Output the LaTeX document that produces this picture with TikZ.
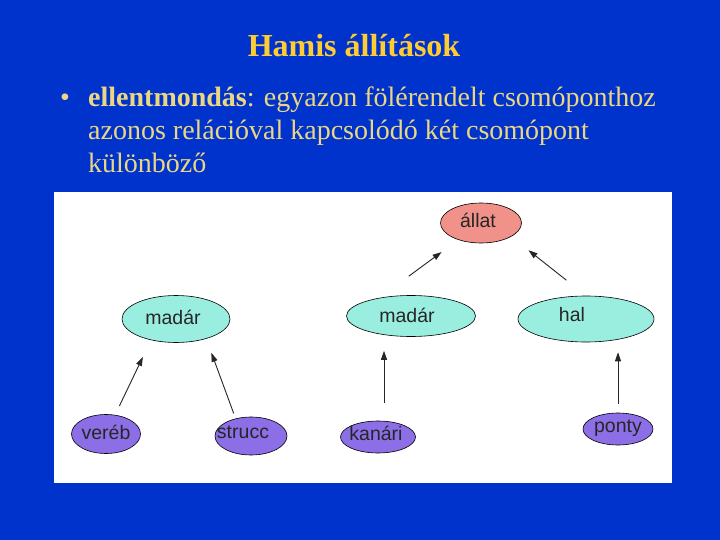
\documentclass[tikz,border=0pt]{standalone}
\usepackage{fontspec}
\setmainfont{Liberation Serif}
\newfontfamily\nodefont{Liberation Sans}
\usepackage{xcolor}
\definecolor{slideblue}{RGB}{0, 51, 204}
\definecolor{titleyellow}{RGB}{255, 204, 51}
\definecolor{textyellow}{RGB}{235, 215, 130}
\definecolor{rootfill}{RGB}{240, 145, 138}
\definecolor{classfill}{RGB}{153, 238, 224}
\definecolor{leaffill}{RGB}{140, 110, 230}
\usepackage{tikz}
\usetikzlibrary{shapes.geometric,arrows.meta,positioning,calc}

\begin{document}
\begin{tikzpicture}[
  x=1pt, y=-1pt,
  concept/.style={ellipse, draw=black, line width=0.6pt, inner sep=0pt},
  rootnode/.style={concept, fill=rootfill},
  classnode/.style={concept, fill=classfill},
  leafnode/.style={concept, fill=leaffill},
  nodetext/.style={font=\nodefont\fontsize{19.5}{19.5}\selectfont, text=black!85, inner sep=0pt},
  arrow/.style={-{Triangle[length=9pt,width=6pt]}, line width=0.9pt, color=black!85}
]
% slide background and white panel
\fill[slideblue] (0,0) rectangle (720,540);
\fill[white] (54,192) rectangle (672,483);

% title and text
\node[anchor=base, text=titleyellow, font=\fontsize{32}{36}\selectfont\bfseries] (title) at (354,57) {Hamis állítások};
\node[anchor=base, text=textyellow, font=\fontsize{28}{33}\selectfont] (bullet) at (65,107) {\textbullet};
\node[anchor=base west, inner sep=0pt, text=textyellow, align=left, font=\fontsize{28}{33}\selectfont] (body) at (88,173)
  {\textbf{ellentmondás}: egyazon fölérendelt csomóponthoz\\azonos relációval kapcsolódó két csomópont\\különböző};

% hierarchy
\node[rootnode, minimum width=81pt, minimum height=40pt, label={[nodetext, xshift=-3pt, yshift=3pt]center:állat}] (allat) at (481,223) {};
\node[classnode, minimum width=108pt, minimum height=47pt, label={[nodetext, xshift=-3pt, yshift=2pt]center:madár}] (madarA) at (176,319) {};
\node[classnode, minimum width=129pt, minimum height=41pt, label={[nodetext, xshift=-4pt, yshift=1pt]center:madár}] (madarB) at (411,316) {};
\node[classnode, minimum width=136pt, minimum height=46pt, label={[nodetext, xshift=-14pt, yshift=4pt]center:hal}] (hal) at (586,319) {};
\node[leafnode, minimum width=69pt, minimum height=39pt, label={[nodetext, yshift=2pt]center:veréb}] (vereb) at (106,434) {};
\node[leafnode, minimum width=72pt, minimum height=38pt, label={[nodetext, xshift=-8pt, yshift=4pt]center:strucc}] (strucc) at (251,436) {};
\node[leafnode, minimum width=75pt, minimum height=32pt, label={[nodetext, xshift=-2pt, yshift=4pt]center:kanári}] (kanari) at (378,437) {};
\node[leafnode, minimum width=70pt, minimum height=32pt, label={[nodetext, yshift=1pt]center:ponty}] (ponty) at (618,429) {};

\draw[arrow, shorten <=31pt, shorten >=42pt] (vereb.center) -- ([xshift=-15pt]madarA.center);
\draw[arrow, shorten <=24pt, shorten >=36pt] ([xshift=-9pt]strucc.center) -- ([xshift=23pt]madarA.center);
\draw[arrow, shorten <=18pt, shorten >=14pt] ([xshift=6pt]kanari.north) -- ([xshift=6pt]kanari.north |- madarB.south);
\draw[arrow, shorten <=9pt, shorten >=10pt] (ponty.north) -- (ponty.north |- hal.south);
\draw[arrow, shorten <=32pt, shorten >=49pt] ([xshift=-28pt]madarB.north) -- (allat.center);
\draw[arrow, shorten <=25pt, shorten >=44pt] (hal.north) -- ([xshift=13pt]allat.center);
\end{tikzpicture}
\end{document}
